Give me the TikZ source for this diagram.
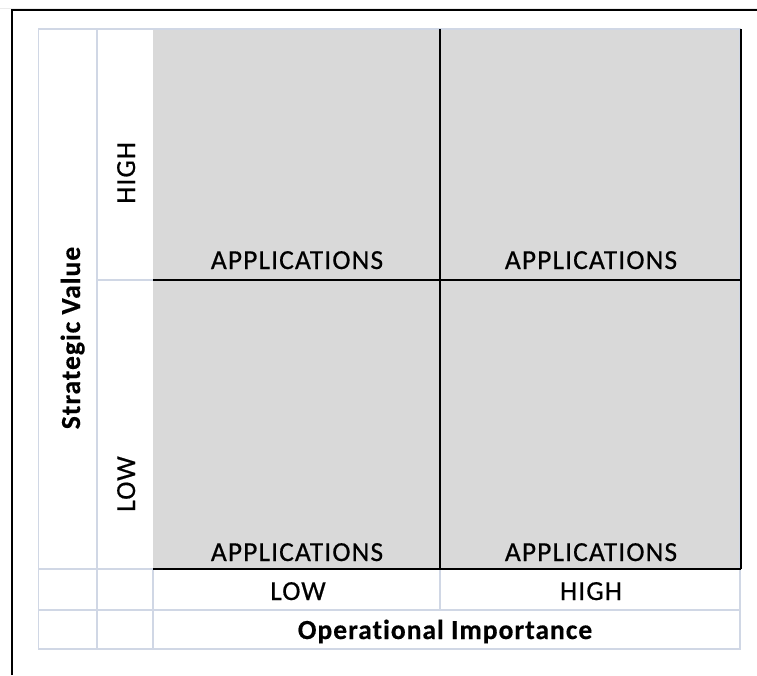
\documentclass[tikz,border=0pt]{standalone}
\usepackage{fontspec}
\newfontfamily\calfont[LetterSpace=4,FakeBold=0.5,RawFeature=-liga]{Carlito}
\newfontfamily\calbfont[LetterSpace=3.5,FakeBold=0.4,RawFeature=-liga]{Carlito Bold}
\definecolor{cellgray}{HTML}{D9D9D9}
\definecolor{gridblue}{HTML}{D0D7E5}
\begin{document}
\begin{tikzpicture}[x=1pt,y=-1pt,
  grid/.style={draw=gridblue,line width=1.6pt},
  quad/.style={draw=black,line width=2pt},
  lbl/.style={inner sep=0pt,font=\calfont\fontsize{27.5}{30}\selectfont},
  blbl/.style={inner sep=0pt,font=\calbfont\fontsize{27.6}{30}\selectfont}]
\useasboundingbox[fill=white] (0,0) rectangle (757,675);
% faint top artifact line
\draw[draw=black!8,line width=1pt] (0,8.5) -- (757,8.5);
% outer frame
\draw[line width=2.2pt] (12,675) -- (12,10) -- (757,10);
% gray quadrant area
\fill[cellgray] (153,29) rectangle (741,569);
% grid lines
\draw[grid] (38.5,29) rectangle (740,649);
\draw[grid] (97,29) -- (97,649);
\draw[grid] (153,569) -- (153,649);
\draw[grid] (97,280) -- (153,280);
\draw[grid] (38.5,569) -- (740,569);
\draw[grid] (38.5,610) -- (740,610);
\draw[grid] (440,569) -- (440,610);
\draw[grid] (97,29) -- (153,29);
% quadrant lines
\draw[quad] (440,29) -- (440,569);
\draw[quad] (153,280) -- (741,280);
\draw[quad] (741,29) -- (741,569);
\draw[quad] (153,569) -- (741,569);
% texts
\node[lbl,anchor=base] (a1) at (297,269) {APPLICATIONS};
\node[lbl,anchor=base] (a2) at (591,269) {APPLICATIONS};
\node[lbl,anchor=base] (a3) at (297,561) {APPLICATIONS};
\node[lbl,anchor=base] (a4) at (591,561) {APPLICATIONS};
\node[lbl,anchor=base] (xlow) at (298,600) {LOW};
\node[lbl,anchor=base] (xhigh) at (591,600) {HIGH};
\node[blbl,anchor=base] (xt) at (445,639) {Operational Importance};
\node[lbl,anchor=base west,rotate=90] (yhigh) at (135,204) {HIGH};
\node[lbl,anchor=base west,rotate=90] (ylow) at (135,512) {LOW};
\node[blbl,anchor=base,rotate=90] (yt) at (80,338) {Strategic Value};
\end{tikzpicture}
\end{document}
